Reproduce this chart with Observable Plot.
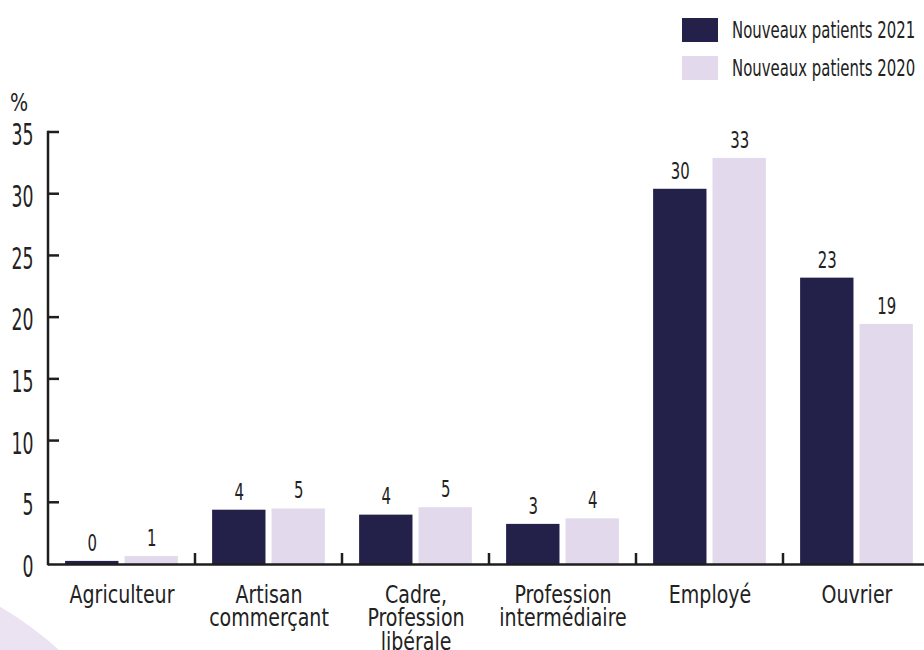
<!DOCTYPE html>
<html><head><meta charset="utf-8">
<script src="https://cdn.jsdelivr.net/npm/d3@7"></script>
<script src="https://cdn.jsdelivr.net/npm/@observablehq/plot@0.6"></script>
<style>
body{margin:0;background:#fff;}
#wrap{position:relative;width:924px;height:650px;overflow:hidden;font-family:"DejaVu Sans Condensed",sans-serif;color:#222;}
#blob{position:absolute;left:-509px;top:561px;width:678px;height:678px;border-radius:50%;background:#ebe3f1;}
#chart{position:absolute;left:0;top:0;}
.leg{position:absolute;left:682px;display:flex;align-items:center;font-size:23px;white-space:nowrap;}
.leg .sw{width:36px;height:24px;margin-right:14px;flex:none;}
.leg span{display:inline-block;transform:scaleX(0.72);transform-origin:left center;}
#pct{position:absolute;left:10px;top:88px;font-size:25px;transform:scaleX(0.85);transform-origin:left center;}
</style></head>
<body>
<div id="wrap">
  <div id="blob"></div>
  <div id="chart"></div>
  <div id="pct">%</div>
  <div id="legend"></div>
</div>
<script>
const categories = ["Agriculteur", "Artisan\ncommerçant", "Cadre,\nProfession\nlibérale", "Profession\nintermédiaire", "Employé", "Ouvrier"];
const series = ["Nouveaux patients 2021", "Nouveaux patients 2020"];
const values2021 = [0.25, 4.4, 4.0, 3.25, 30.4, 23.2];
const values2020 = [0.65, 4.5, 4.6, 3.7, 32.9, 19.45];
const labels2021 = ["0", "4", "4", "3", "30", "23"];
const labels2020 = ["1", "5", "5", "4", "33", "19"];
const yTicks = [0, 5, 10, 15, 20, 25, 30, 35];
const colors = ["#23204a", "#e3d9ec"];

const rows = [];
categories.forEach((c, i) => {
  rows.push({cat: c, series: series[0], value: values2021[i], label: labels2021[i]});
  rows.push({cat: c, series: series[1], value: values2020[i], label: labels2020[i]});
});

const font = '"DejaVu Sans Condensed",sans-serif';
const plot = Plot.plot({
  width: 924, height: 650,
  marginTop: 132, marginBottom: 86, marginLeft: 48, marginRight: -6,
  style: {fontFamily: font, background: "transparent", color: "#222", overflow: "visible"},
  fx: {domain: categories, padding: 0, label: null},
  x: {domain: series, paddingInner: 0.1017, paddingOuter: 0.288, axis: null, round: false},
  y: {domain: [0, 35], axis: null},
  color: {domain: series, range: colors},
  marks: [
    Plot.barY(rows, {fx: "cat", x: "series", y: "value", fill: "series"}),
    Plot.text(rows, {fx: "cat", x: "series", y: "value", text: "label", dy: -18, fontSize: 23, fill: "#222"}),
    Plot.ruleY([0], {stroke: "#1e1e1e", strokeWidth: 2.5}),
    Plot.axisFx({anchor: "bottom", tickSize: 0, tickPadding: 22, fontSize: 24, lineHeight: 0.97, label: null, fill: "#222"}),
    Plot.axisY({ticks: yTicks, tickSize: 0, tickPadding: 15, dy: 3, fontSize: 30, label: null, fill: "#222"})
  ]
});
document.getElementById("chart").appendChild(plot);

const svg = d3.select(plot);
function squeeze(sel, s) {
  sel.each(function () {
    const t = this.getAttribute("transform");
    if (t) this.setAttribute("transform", t + ` scale(${s},1)`);
    else {
      const x = +this.getAttribute("x") || 0, y = +this.getAttribute("y") || 0;
      this.setAttribute("x", 0); this.setAttribute("y", 0);
      this.setAttribute("transform", `translate(${x},${y}) scale(${s},1)`);
    }
  });
}
squeeze(svg.selectAll('g[aria-label="y-axis tick label"] text'), 0.64);
squeeze(svg.selectAll('g[aria-label="fx-axis tick label"] text'), 0.88);
squeeze(svg.selectAll('g[aria-label="text"] text'), 0.72);

// axis line, inward y ticks and category separators, placed with Plot's own scales
const fx = plot.scale("fx"), y = plot.scale("y");
const y0 = y.apply(0), yTop = y.apply(yTicks[yTicks.length - 1]);
const x0 = fx.range[0];
const g = svg.append("g").attr("stroke", "#1e1e1e").attr("stroke-width", 2.5);
g.append("line").attr("x1", x0).attr("x2", x0).attr("y1", yTop - 1.2).attr("y2", y0 + 1.2);
yTicks.slice(1).forEach(t => {
  g.append("line").attr("x1", x0).attr("x2", x0 + 11).attr("y1", y.apply(t)).attr("y2", y.apply(t));
});
categories.slice(1).forEach(c => {
  const xc = fx.apply(c);
  g.append("line").attr("x1", xc).attr("x2", xc).attr("y1", y0).attr("y2", y0 - 11);
});

// legend
const leg = d3.select("#legend");
series.forEach((s, i) => {
  const d = leg.append("div").attr("class", "leg").style("top", (17 + i * 38) + "px");
  d.append("div").attr("class", "sw").style("background", colors[i]);
  d.append("span").text(s);
});
</script>
</body></html>
